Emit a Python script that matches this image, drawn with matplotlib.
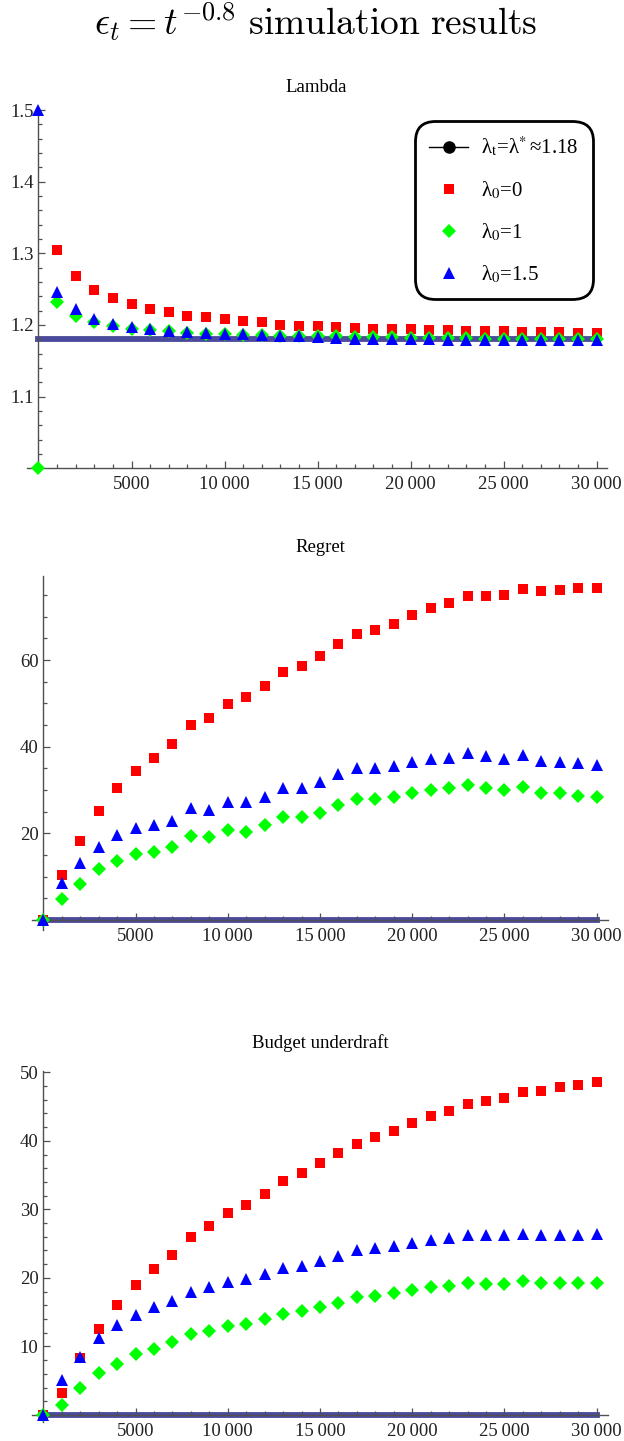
# plot.py - epsilon_t = t^-0.8 simulation results (Lambda / Regret / Budget underdraft)
import matplotlib
matplotlib.use('Agg')  # no display
import matplotlib.pyplot as plt
from matplotlib.lines import Line2D
from matplotlib.font_manager import FontProperties
from matplotlib.ticker import FixedLocator, MultipleLocator
import numpy as np

W, H, DPI = 624, 1441, 100

plt.rcParams['font.family'] = ['Liberation Serif', 'DejaVu Serif']
plt.rcParams['mathtext.fontset'] = 'cm'

# ---- data ----
t = [0, 1000, 2000, 3000, 4000, 5000, 6000, 7000, 8000, 9000, 10000,
     11000, 12000, 13000, 14000, 15000, 16000, 17000, 18000, 19000, 20000,
     21000, 22000, 23000, 24000, 25000, 26000, 27000, 28000, 29000, 30000]

lambda_star = [1.18] * len(t)
lambda_red = [0.0, 1.305, 1.269, 1.249, 1.237, 1.229, 1.223, 1.218, 1.213, 1.211, 1.208,
              1.205, 1.204, 1.200, 1.199, 1.198, 1.197, 1.196, 1.195, 1.194, 1.194,
              1.193, 1.193, 1.192, 1.191, 1.191, 1.190, 1.190, 1.190, 1.189, 1.189]
lambda_green = [1.0, 1.232, 1.213, 1.204, 1.198, 1.194, 1.193, 1.191, 1.189, 1.188, 1.187,
                1.186, 1.186, 1.185, 1.185, 1.184, 1.184, 1.183, 1.183, 1.183, 1.182,
                1.182, 1.182, 1.182, 1.181, 1.181, 1.181, 1.181, 1.181, 1.181, 1.181]
lambda_blue = [1.5, 1.246, 1.222, 1.208, 1.201, 1.197, 1.195, 1.192, 1.190, 1.189, 1.188,
               1.187, 1.186, 1.185, 1.184, 1.183, 1.182, 1.181, 1.181, 1.180, 1.180,
               1.180, 1.179, 1.179, 1.179, 1.179, 1.179, 1.179, 1.179, 1.179, 1.179]

regret_star = [0.0] * len(t)
regret_red = [0.0, 10.5, 18.3, 25.2, 30.5, 34.5, 37.5, 40.7, 45.1, 46.7, 49.9,
              51.5, 54.1, 57.3, 58.7, 61.0, 63.8, 66.1, 67.0, 68.4, 70.5,
              71.9, 73.2, 74.8, 74.8, 75.1, 76.5, 76.0, 76.2, 76.7, 76.7]
regret_green = [0.0, 4.8, 8.2, 11.7, 13.7, 15.2, 15.6, 16.8, 19.4, 19.1, 20.8,
                20.4, 21.9, 23.7, 23.7, 24.8, 26.5, 27.9, 27.9, 28.3, 29.2,
                30.0, 30.4, 31.1, 30.4, 30.0, 30.6, 29.4, 29.2, 28.7, 28.3]
regret_blue = [0.0, 8.5, 13.1, 16.9, 19.6, 21.2, 21.9, 22.9, 25.8, 25.5, 27.3,
               27.3, 28.5, 30.5, 30.5, 31.9, 33.6, 35.1, 35.1, 35.5, 36.4,
               37.2, 37.5, 38.6, 37.8, 37.1, 38.0, 36.7, 36.4, 36.2, 35.8]

budget_star = [0.0] * len(t)
budget_red = [0.0, 3.2, 8.3, 12.5, 16.0, 18.9, 21.3, 23.4, 25.9, 27.5, 29.4,
              30.7, 32.3, 34.2, 35.3, 36.7, 38.2, 39.5, 40.5, 41.4, 42.6,
              43.6, 44.3, 45.3, 45.8, 46.2, 47.1, 47.2, 47.8, 48.2, 48.6]
budget_green = [0.0, 1.4, 3.9, 6.1, 7.5, 8.9, 9.6, 10.6, 11.8, 12.2, 13.0,
                13.3, 14.0, 14.8, 15.1, 15.7, 16.4, 17.2, 17.3, 17.8, 18.2,
                18.6, 18.8, 19.2, 19.1, 19.1, 19.5, 19.2, 19.3, 19.2, 19.2]
budget_blue = [0.0, 5.1, 8.4, 11.2, 13.1, 14.6, 15.7, 16.6, 17.9, 18.6, 19.4,
               19.8, 20.5, 21.4, 21.8, 22.5, 23.2, 24.1, 24.4, 24.6, 25.1,
               25.6, 25.8, 26.3, 26.2, 26.2, 26.4, 26.3, 26.3, 26.3, 26.4]

x_ticks = [5000, 10000, 15000, 20000, 25000, 30000]
x_tick_labels = ['5000', '10\u2009000', '15\u2009000', '20\u2009000', '25\u2009000', '30\u2009000']

legend_labels = ['\u03bb$_\\mathrm{t}$=\u03bb$^{\\!*}$\u22481.18',
                 '\u03bb$_0$=0', '\u03bb$_0$=1', '\u03bb$_0$=1.5']

# series styles
STAR_COLOR = '#3b3b95'
SERIES = [('red', 's', 7.4), ('#00ff00', 'D', 7.0), ('blue', '^', 8.2)]
AXIS_COLOR = '#505050'


def px_axes(fig, left, top, right, bottom):
    """Axes placed by pixel box in the 624x1441 canvas."""
    return fig.add_axes([left / W, 1 - bottom / H, (right - left) / W, (bottom - top) / H])


def draw_panel(ax, star, series, xlim, ylim, ybase, yticks, yminor):
    ax.set_xlim(*xlim)
    ax.set_ylim(*ylim)

    ax.plot(t, star, color=STAR_COLOR, lw=4.2, alpha=0.92,
            solid_capstyle='projecting', zorder=1.5, clip_on=False)
    lo, hi = ylim
    for (color, marker, ms), ys in zip(SERIES, series):
        xs = np.array(t)
        ys = np.array(ys)
        keep = (ys >= lo - 1e-9) & (ys <= hi + 1e-9)  # points outside range are not drawn
        ax.plot(xs[keep], ys[keep], ls='none', marker=marker, ms=ms, color=color,
                mec=color, mew=0, zorder=3, clip_on=False)

    # Mathematica-like axes crossing at the origin
    for side in ('top', 'right'):
        ax.spines[side].set_visible(False)
    ax.spines['left'].set_position(('data', 0))
    ax.spines['bottom'].set_position(('data', ybase))
    for side in ('left', 'bottom'):
        ax.spines[side].set_color(AXIS_COLOR)
        ax.spines[side].set_linewidth(1.0)
        ax.spines[side].set_zorder(2.5)

    ax.xaxis.set_major_locator(FixedLocator(x_ticks))
    ax.set_xticklabels(x_tick_labels)
    ax.xaxis.set_minor_locator(MultipleLocator(1000))
    ax.yaxis.set_major_locator(FixedLocator(yticks))
    ax.yaxis.set_minor_locator(MultipleLocator(yminor))

    ax.tick_params(which='both', direction='in', color=AXIS_COLOR, width=0.9,
                   labelsize=13.5, labelcolor='#222222')
    ax.tick_params(which='major', length=5.2)
    ax.tick_params(which='minor', length=3.0)
    ax.tick_params(axis='x', which='major', pad=5.5)
    ax.tick_params(axis='y', which='major', pad=3.5)
    ax.patch.set_visible(False)


fig = plt.figure(figsize=(W / DPI, H / DPI), dpi=DPI)

fig.text(316 / W, 1 - 22 / H, r'$\epsilon_t = t^{-0.8}\ \mathrm{simulation\ results}$',
         ha='center', va='center', fontsize=27)

# Lambda
ax1 = px_axes(fig, 26.7, 108, 606.7, 468.3)
draw_panel(ax1, lambda_star, [lambda_red, lambda_green, lambda_blue],
           (-634, 30537), (1.0, 1.5028), 1.0, [1.1, 1.2, 1.3, 1.4, 1.5], 0.02)
ax1.set_yticklabels(['1.1', '1.2', '1.3', '1.4', '1.5'])
fig.text(316 / W, 1 - 87 / H, 'Lambda', ha='center', va='center', fontsize=13.5)

handles = [Line2D([], [], color='black', lw=1.0, marker='o', ms=8.0)]
for color, marker, ms in SERIES:
    handles.append(Line2D([], [], ls='none', marker=marker, ms=ms, color=color, mew=0))
leg = ax1.legend(handles, legend_labels, loc='upper right', bbox_to_anchor=(0.976, 0.965),
                 borderaxespad=0, frameon=True, fancybox=True, framealpha=1,
                 prop=FontProperties(family='Liberation Serif', size=15, math_fontfamily='stix'),
                 handlelength=1.9, handletextpad=0.62, labelspacing=0.98, borderpad=0.68)
frame = leg.get_frame()
frame.set_edgecolor('black')
frame.set_linewidth(2.0)
frame.set_boxstyle('round', pad=0.0, rounding_size=1.0)

# Regret
ax2 = px_axes(fig, 31.7, 576, 608.3, 930)
draw_panel(ax2, regret_star, [regret_red, regret_green, regret_blue],
           (-629, 30629), (-2.31, 79.4), 0, [20, 40, 60], 5)
fig.text(320 / W, 1 - 548 / H, 'Regret', ha='center', va='center', fontsize=13.5)

# Budget underdraft
ax3 = px_axes(fig, 31.7, 1070.7, 608.3, 1421.7)
draw_panel(ax3, budget_star, [budget_red, budget_green, budget_blue],
           (-629, 30629), (-0.98, 50.23), 0, [10, 20, 30, 40, 50], 2)
fig.text(320 / W, 1 - 1043 / H, 'Budget underdraft', ha='center', va='center', fontsize=13.5)

fig.savefig('out.png', dpi=DPI)
plt.close(fig)
